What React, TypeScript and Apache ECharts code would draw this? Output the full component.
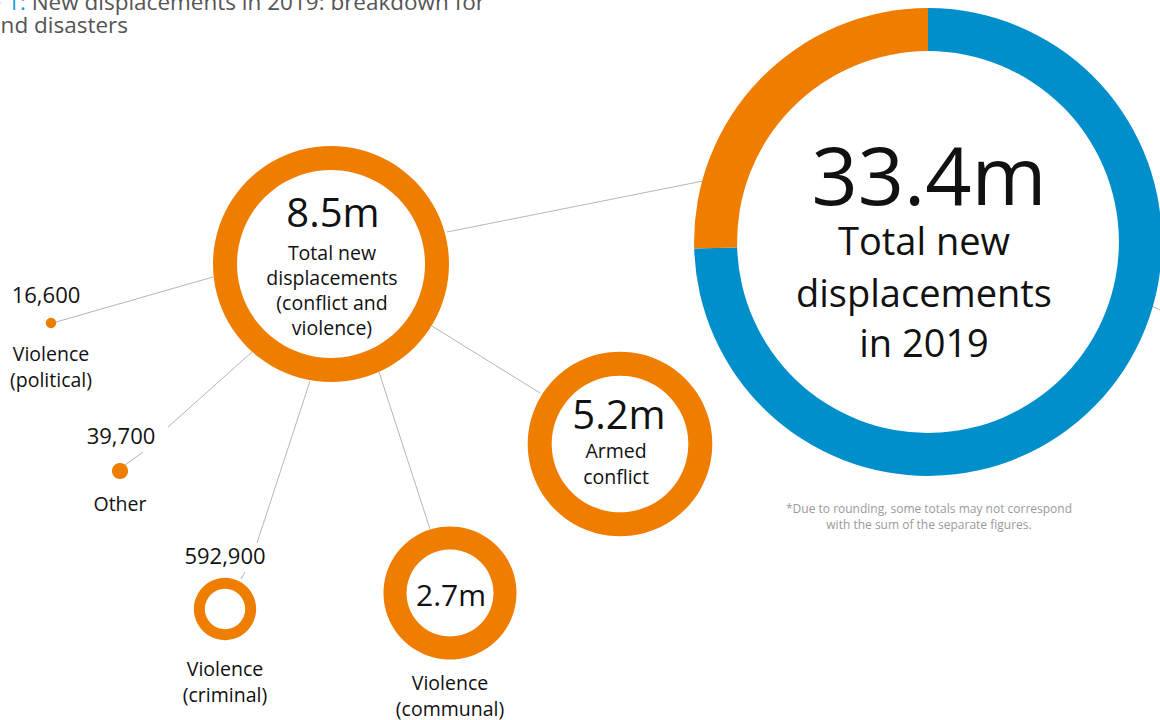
import React, { useEffect, useRef } from "react";
import * as echarts from "echarts";

const FONT = "'Open Sans', 'Noto Sans', sans-serif";
const ORANGE = "#ef7d00";
const BLUE = "#008fcb";
const LINE = "#b5b5b5";
const INK = "#111111";

// ---- data ----
const splitNames = ["Disasters", "Conflict and violence"];
const splitValues = [24900000, 8500000];
const splitColors = [BLUE, ORANGE];
const conflictTotal = 8500000;
const categories = ["Violence (political)", "Other", "Violence (criminal)", "Violence (communal)", "Armed conflict"];
const categoryValues = [16600, 39700, 592900, 2700000, 5200000];
const categoryLabels = ["16,600", "39,700", "592,900", "2.7m", "5.2m"];
const totalCaption = ["Total new", "displacements", "in 2019"];
const conflictCaption = ["Total new", "displacements", "(conflict and", "violence)"];
const captionLines = [["Violence", "(political)"], ["Other"], ["Violence", "(criminal)"], ["Violence", "(communal)"], ["Armed", "conflict"]];
const titleLine1Lead = "Figure 1:";
const titleLine1 = " New displacements in 2019: breakdown for";
const titleLine2 = "conflict and disasters";
const footnote = ["*Due to rounding, some totals may not correspond", "with the sum of the separate figures."];

// ---- layout (positions only) ----
const K = 118 / Math.sqrt(8500000); // px per sqrt(value): bubble area proportional to value
const rOf = (v: number) => K * Math.sqrt(v);
const bigCenter = [928, 242];
const bigRing = 43;
const conflictCenter = [331, 264];
const conflictRing = 24;
const catCenters = [[51, 323], [120, 471], [225, 609], [450, 593], [620, 444]];
const catRings = [0, 0, 11, 23, 24];

const fmtM = (v: number) => (v / 1e6).toFixed(1) + "m";

function ring(name: string, center: number[], r: number, ringW: number, data: any[], colors: string[]) {
  return {
    type: "pie",
    name,
    center,
    radius: [ringW > 0 ? r - ringW : 0, r],
    startAngle: 90,
    clockwise: true,
    silent: true,
    label: { show: false },
    labelLine: { show: false },
    emphasis: { disabled: true, scale: false },
    itemStyle: { borderWidth: 0 },
    color: colors,
    data,
  };
}

function txt(x: number, y: number, text: string, size: number, color = INK, align = "center", weight: any = "normal") {
  return {
    type: "text",
    x,
    y,
    silent: true,
    style: { text, x: 0, y: 0, fill: color, font: `${weight} ${size}px ${FONT}`, align, verticalAlign: "middle" },
  };
}

function ln(x1: number, y1: number, x2: number, y2: number) {
  return { type: "line", silent: true, shape: { x1, y1, x2, y2 }, style: { stroke: LINE, lineWidth: 1 } };
}

export default function App() {
  const ref = useRef<HTMLDivElement>(null);
  useEffect(() => {
    document.body.style.margin = "0";
    const chart = echarts.init(ref.current!, undefined, { renderer: "svg" });
    const total = splitValues.reduce((a, b) => a + b, 0);
    const series: any[] = [];
    series.push(
      ring("Total", bigCenter, rOf(total), bigRing,
        splitNames.map((n, i) => ({ name: n, value: splitValues[i] })), splitColors)
    );
    series.push(ring("Conflict", conflictCenter, rOf(conflictTotal), conflictRing,
      [{ name: "Conflict and violence", value: conflictTotal }], [ORANGE]));
    categories.forEach((c, i) => {
      series.push(ring(c, catCenters[i], rOf(categoryValues[i]), catRings[i],
        [{ name: c, value: categoryValues[i] }], [ORANGE]));
    });

    const g: any[] = [];
    // connectors
    g.push(ln(447, 232, 703, 181));
    g.push(ln(213, 277, 56, 322));
    g.push(ln(252, 352, 168, 427));
    g.push(ln(143, 452, 125, 465));
    g.push(ln(310, 381, 257, 543));
    g.push(ln(245, 572, 241, 579));
    g.push(ln(379, 372, 430, 529));
    g.push(ln(432, 326, 540, 393));
    g.push(ln(1150, 305, 1162, 311));

    // title (cropped at the top-left edge, as in the reference)
    g.push({
      type: "text", x: 485, y: 1, silent: true,
      style: {
        text: `{b|${titleLine1Lead}}{g|${titleLine1}}`, x: 0, y: 0, align: "right", verticalAlign: "middle",
        rich: {
          b: { fill: "#1a9fd9", font: `normal 22.5px ${FONT}` },
          g: { fill: "#555555", font: `normal 22.5px ${FONT}` },
        },
      },
    });
    g.push(txt(128, 24, titleLine2, 22.5, "#555555", "right"));

    // big donut text
    g.push(txt(929, 173, fmtM(total), 81));
    [240, 292, 342].forEach((y, i) => g.push(txt(924, y, totalCaption[i], 38)));

    // conflict donut text
    g.push(txt(333, 211, fmtM(conflictTotal), 40));
    [252, 277, 302, 327].forEach((y, i) => g.push(txt(332, y, conflictCaption[i], 19.5)));

    // political
    g.push(txt(46, 294, categoryLabels[0], 22));
    g.push(txt(51, 353, captionLines[0][0], 19.5));
    g.push(txt(51, 379, captionLines[0][1], 19.5));
    // other
    g.push(txt(121, 435, categoryLabels[1], 22));
    g.push(txt(120, 503, captionLines[1][0], 19.5));
    // criminal
    g.push(txt(225, 555, categoryLabels[2], 22));
    g.push(txt(225, 668, captionLines[2][0], 19.5));
    g.push(txt(225, 694, captionLines[2][1], 19.5));
    // communal
    g.push(txt(451, 594, categoryLabels[3], 30));
    g.push(txt(450, 682, captionLines[3][0], 19.5));
    g.push(txt(450, 708, captionLines[3][1], 19.5));
    // armed conflict
    g.push(txt(619, 413, categoryLabels[4], 40));
    g.push(txt(616, 450, captionLines[4][0], 19.5));
    g.push(txt(616, 476, captionLines[4][1], 19.5));

    // footnote
    g.push(txt(929, 508, footnote[0], 12, "#9a9a9a"));
    g.push(txt(929, 524, footnote[1], 12, "#9a9a9a"));

    chart.setOption({
      animation: false,
      backgroundColor: "#ffffff",
      series,
      graphic: { elements: g },
    });
    return () => chart.dispose();
  }, []);
  return <div ref={ref} style={{ width: 1160, height: 720, position: "absolute", left: 0, top: 0 }} />;
}
